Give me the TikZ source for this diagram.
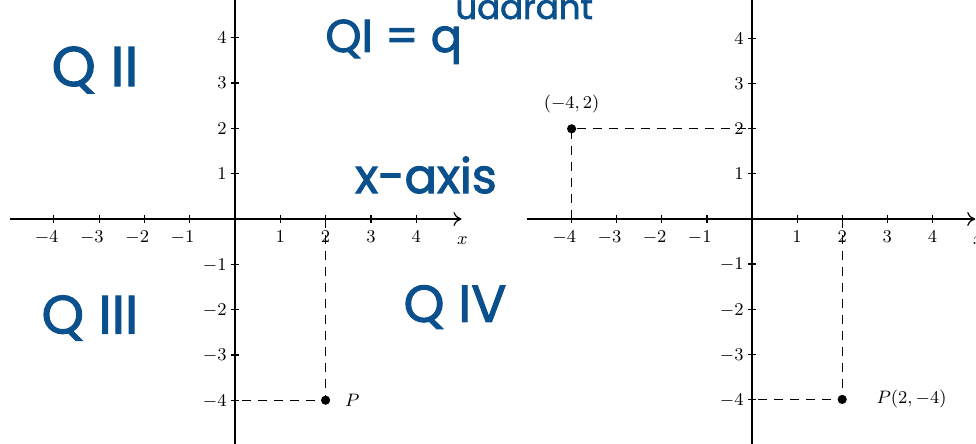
\documentclass[tikz,border=0pt]{standalone}
\usepackage{fontspec}
\newfontfamily\hand[FakeBold=2]{Poppins}
\usetikzlibrary{arrows.meta}
\definecolor{ink}{RGB}{10,80,140}
\tikzset{
  axisline/.style={line width=0.6pt, -{To[length=4pt,width=7pt]}},
  tickmark/.style={line width=0.6pt},
  guide/.style={line width=0.6pt, dash pattern=on 4.5pt off 3.5pt},
  dot/.style={circle, fill=black, inner sep=0pt, minimum size=4.6pt},
  lab/.style={font=\fontsize{9}{11}\selectfont, inner sep=0pt},
  handw/.style={text=ink, font=\hand\fontsize{#1}{#1}\selectfont, inner sep=0pt},
}
\begin{document}
\begin{tikzpicture}[x=0.5pt,y=-0.5pt]
\useasboundingbox (0,0) rectangle (976,444);
\clip (0,0) rectangle (976,444);

% ---------- left plot ----------
\begin{scope}[shift={(117.5pt,-109.5pt)}, x=22.65pt, y=22.65pt]
  \coordinate (LxS) at (-4.97,0); \coordinate (LxE) at (5,0);
  \coordinate (LyS) at (0,-5.2);  \coordinate (LyE) at (0,5.3);
  \draw[axisline] (LxS) -- (LxE);
  \draw[axisline] (LyS) -- (LyE);
  \foreach \i in {-4,-3,-2,-1,1,2,3,4} {
    \draw[tickmark] ([yshift=2pt]\i,0) -- ([yshift=-2pt]\i,0);
    \draw[tickmark] ([xshift=2pt]0,\i) -- ([xshift=-2pt]0,\i);
  }
  \foreach \i in {1,2,3,4} {
    \node[lab, anchor=base] at ([yshift=-11.75pt]\i,0) {$\i$};
    \node[lab, anchor=base] at ([yshift=-11.75pt]-\i,0) {\llap{$-$}$\i$};
    \node[lab, anchor=base east] at ([xshift=-4pt,yshift=-2.9pt]0,\i) {$\i$};
    \node[lab, anchor=base east] at ([xshift=-4pt,yshift=-2.9pt]0,-\i) {$-\i$};
  }
  \node[lab, anchor=base] (Lxl) at ([yshift=-12.5pt]5.02,0) {$x$};
  \coordinate (LP) at (2,-4);
  \coordinate (LPx) at (2,0);
  \coordinate (LPy) at (0,-4);
  \draw[guide] (LPx) -- (LP) -- (LPy);
  \node[dot] (LPd) at (LP) {};
  \node[lab, anchor=west] (LPl) at ([xshift=9.5pt]LP) {$P$};
\end{scope}

% ---------- right plot ----------
\begin{scope}[shift={(376pt,-109.5pt)}, x=22.55pt, y=22.55pt]
  \coordinate (RxS) at (-5,0); \coordinate (RxE) at (4.95,0);
  \coordinate (RyS) at (0,-5.2); \coordinate (RyE) at (0,5.3);
  \draw[axisline] (RxS) -- (RxE);
  \draw[axisline] (RyS) -- (RyE);
  \foreach \i in {-4,-3,-2,-1,1,2,3,4} {
    \draw[tickmark] ([yshift=2pt]\i,0) -- ([yshift=-2pt]\i,0);
    \draw[tickmark] ([xshift=2pt]0,\i) -- ([xshift=-2pt]0,\i);
  }
  \foreach \i in {1,2,3,4} {
    \node[lab, anchor=base] at ([yshift=-11.75pt]\i,0) {$\i$};
    \node[lab, anchor=base] at ([yshift=-11.75pt]-\i,0) {\llap{$-$}$\i$};
    \node[lab, anchor=base east] at ([xshift=-4pt,yshift=-2.9pt]0,\i) {$\i$};
    \node[lab, anchor=base east] at ([xshift=-4pt,yshift=-2.9pt]0,-\i) {$-\i$};
  }
  \node[lab, anchor=base] (Rxl) at ([yshift=-12.5pt]5.02,0) {$x$};
  % point (-4,2)
  \coordinate (RA) at (-4,2);
  \coordinate (RAx) at (-4,0);
  \coordinate (RAy) at (0,2);
  \draw[guide] (RAx) -- (RA) -- (RAy);
  \node[dot] (RAd) at (RA) {};
  \node[lab, anchor=south] (RAl) at ([yshift=7.5pt]RA) {$(-4,2)$};
  % point P(2,-4)
  \coordinate (RP) at (2,-4);
  \coordinate (RPx) at (2,0);
  \coordinate (RPy) at (0,-4);
  \draw[guide] (RPx) -- (RP) -- (RPy);
  \node[dot] (RPd) at (RP) {};
  \node[lab, anchor=west] (RPl) at ([xshift=17pt]RP) {$P(2,-4)$};
\end{scope}

% ---------- handwritten notes ----------
\node[handw=28] (q2) at (95,70) {Q II};
\node[handw=23, anchor=base west] (q1) at (325,52) {QI = q};
\node[handw=17, anchor=base west] (q1b) at (455,19) {uadrant};
\node[handw=24] (xa) at (426,175) {x-axis};
\node[handw=27] (q3) at (90,318) {Q III};
\node[handw=26] (q4) at (455,307) {Q IV};
\end{tikzpicture}
\end{document}
